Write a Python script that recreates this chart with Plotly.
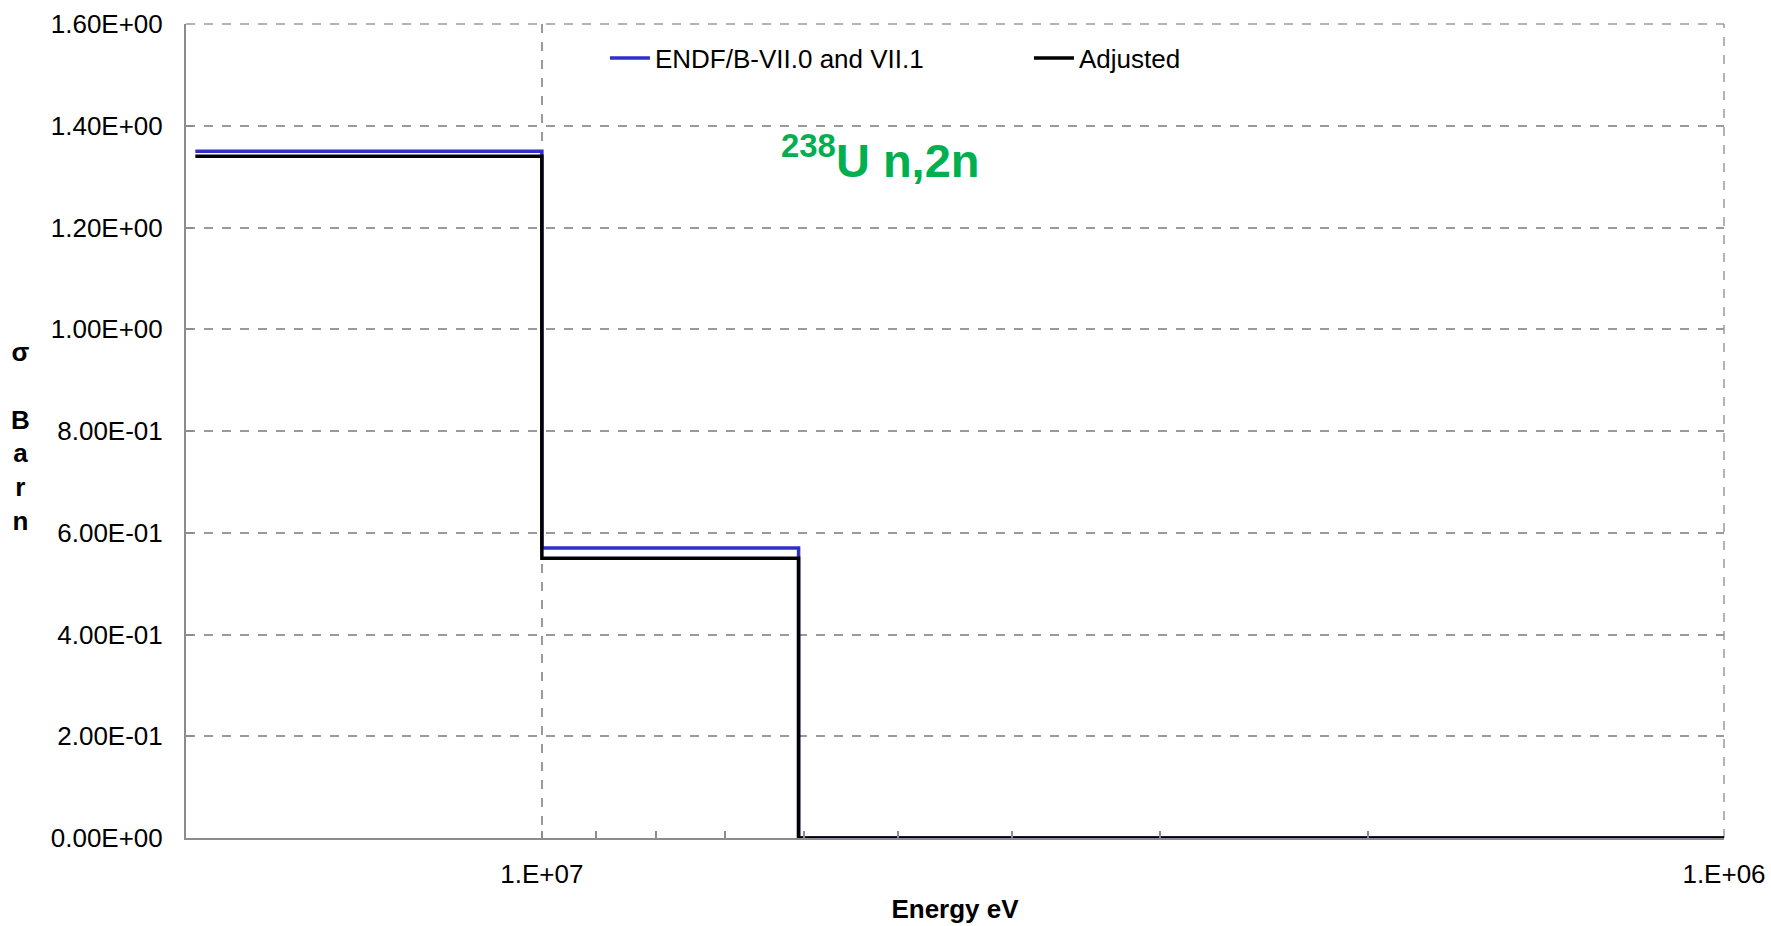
import plotly.graph_objects as go

# ---- data ----
energy_bounds = [1.964e7, 1.0e7, 6.065e6, 1.0e6]   # eV, group boundaries (high -> low)
endf_xs = [1.35, 0.57, 0.0, 0.0]                    # barn
adjusted_xs = [1.34, 0.55, 0.0, 0.0]                # barn

y_tickvals = [0.0, 0.2, 0.4, 0.6, 0.8, 1.0, 1.2, 1.4, 1.6]
y_ticktext = ["0.00E+00", "2.00E-01", "4.00E-01", "6.00E-01", "8.00E-01",
              "1.00E+00", "1.20E+00", "1.40E+00", "1.60E+00"]
x_tickvals = [1.0e7, 1.0e6]
x_ticktext = ["1.E+07", "1.E+06"]
x_minor_vals = [9e6, 8e6, 7e6, 6e6, 5e6, 4e6, 3e6, 2e6]

FONT = "Liberation Sans, Arial, sans-serif"
GRID = "#9a9a9a"
AXIS = "#8c8c8c"
x_range = [7.30103, 6.0]   # log10(2e7) -> log10(1e6), reversed

fig = go.Figure()
fig.add_trace(go.Scatter(
    x=energy_bounds, y=endf_xs, mode="lines", line_shape="hv",
    line=dict(color="#3030C8", width=3.5),
    name="ENDF/B-VII.0 and VII.1"))
fig.add_trace(go.Scatter(
    x=energy_bounds, y=adjusted_xs, mode="lines", line_shape="hv",
    line=dict(color="#000000", width=3.5),
    name="Adjusted"))
# invisible trace to carry minor-tick axis
fig.add_trace(go.Scatter(x=[1e6], y=[0], xaxis="x2", mode="markers",
                         marker=dict(opacity=0), showlegend=False, hoverinfo="skip"))

fig.update_layout(
    width=1771, height=926,
    margin=dict(l=186, r=47, t=24, b=88),
    paper_bgcolor="white", plot_bgcolor="white",
    font=dict(family=FONT, size=26, color="black"),
    showlegend=True,
    legend=dict(orientation="h", x=0.2724, y=0.987, xanchor="left", yanchor="top",
                bgcolor="rgba(0,0,0,0)", font=dict(size=26),
                entrywidth=369, itemwidth=40),
    xaxis=dict(type="log", range=x_range, tickvals=x_tickvals, ticktext=x_ticktext,
               showgrid=True, gridcolor=GRID, griddash="dash", gridwidth=1.5,
               showline=True, linecolor=AXIS, linewidth=2,
               ticks="inside", ticklen=7, tickcolor=AXIS, tickwidth=1.5,
               ticklabelstandoff=12, ticklabeloverflow="allow",
               zeroline=False, automargin=False,
               title=dict(text="<b>Energy eV</b>", font=dict(size=26), standoff=12)),
    xaxis2=dict(type="log", range=x_range, overlaying="x", side="bottom",
                tickvals=x_minor_vals, showticklabels=False, showgrid=False,
                ticks="inside", ticklen=7, tickcolor=AXIS, tickwidth=1.5,
                showline=False, zeroline=False, automargin=False),
    yaxis=dict(range=[0, 1.6], tickvals=y_tickvals, ticktext=y_ticktext,
               showgrid=True, gridcolor=GRID, griddash="dash", gridwidth=1.5,
               showline=True, linecolor=AXIS, linewidth=2,
               ticks="inside", ticklen=7, tickcolor=AXIS, tickwidth=1.5,
               ticklabelstandoff=16, ticklabeloverflow="allow",
               zeroline=False, automargin=False),
)

# dashed frame on top and right edges (grid lines at the axis ends)
fig.add_shape(type="line", xref="paper", yref="paper", x0=0, x1=1, y0=1, y1=1,
              line=dict(color=GRID, width=1.5, dash="dash"), layer="below")
fig.add_shape(type="line", xref="paper", yref="paper", x0=1, x1=1, y0=0, y1=1,
              line=dict(color=GRID, width=1.5, dash="dash"), layer="below")

fig.add_annotation(
    text="<b>σ<br><br>B<br>a<br>r<br>n</b>",
    xref="paper", yref="paper", x=(20 - 186) / 1538, y=0.493,
    xanchor="center", yanchor="middle", showarrow=False,
    font=dict(size=26, family=FONT), align="center")

fig.add_annotation(
    text="<b><sup>238</sup>U n,2n</b>",
    xref="paper", yref="paper", x=(880 - 186) / 1538, y=(838 - 157) / 814,
    xanchor="center", yanchor="middle", showarrow=False,
    font=dict(size=47, family=FONT, color="#00B050"))

fig.write_html("out.html", config={"displayModeBar": False},
               post_script="document.body.style.margin='0';")
